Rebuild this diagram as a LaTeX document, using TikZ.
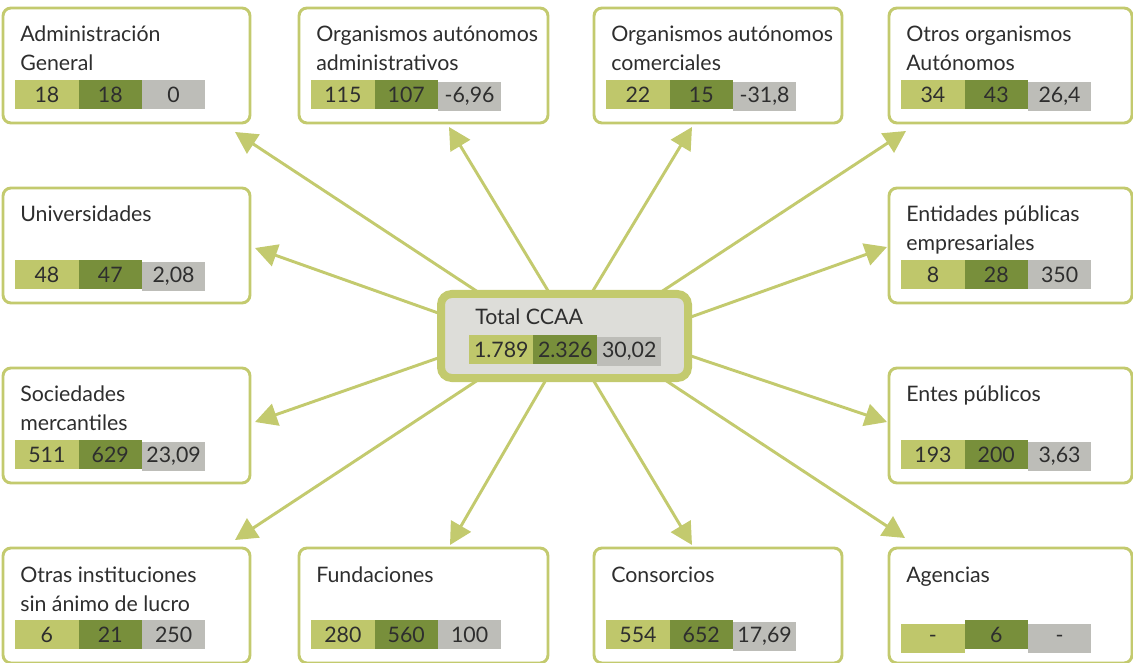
\documentclass[tikz,border=0pt]{standalone}
\usepackage{fontspec}
\setmainfont{Lato}
\usepackage{tikz}
\usetikzlibrary{matrix,positioning,calc,arrows.meta,backgrounds}

\definecolor{verdeclaro}{HTML}{BFC76B}
\definecolor{verdeoscuro}{HTML}{788F3B}
\definecolor{gris}{HTML}{BDBDB8}
\definecolor{borde}{HTML}{C3CA6E}
\definecolor{fondo}{HTML}{DDDDD9}
\definecolor{texto}{HTML}{2E2E2E}

\begin{document}
\begin{tikzpicture}[x=0.75pt,y=-0.75pt,
    caja/.style={draw=borde, line width=2.2pt, rounded corners=6pt, fill=white, anchor=north west, inner sep=0pt, outer sep=0pt, minimum height=86.25pt},
    titulo/.style={anchor=base west, align=left, inner sep=0pt, text=texto, font=\fontsize{16}{21.75}\selectfont},
    valores/.style={matrix of nodes, anchor=north west, inner sep=0pt, column sep=0pt,
      nodes={minimum width=47.5pt, minimum height=21.75pt, inner sep=0pt, text=texto, font=\fontsize{16}{20}\selectfont},
      column 1/.style={nodes={fill=verdeclaro}}, column 2/.style={nodes={fill=verdeoscuro}}, column 3/.style={nodes={fill=gris}}},
    flecha/.style={draw=borde, line width=2.2pt, -{Triangle[length=16.5pt,width=17pt]}}]
\useasboundingbox (0,0) rectangle (1133,663);

\node[caja, line width=6pt, rounded corners=8pt, fill=fondo, minimum width=185.25pt, minimum height=63pt] (tot) at (441,294) {};
\node[titulo] (tot-t) at ([shift={(34,31)}]tot.north west) {Total CCAA};
\matrix[valores, nodes={minimum width=48pt}] (tot-v) at ([shift={(28,41)}]tot.north west) {1.789 & 2.326 & 30,02 \\};

\node[caja, minimum width=185.25pt] (adm) at (3,8) {};
\node[titulo] (adm-t) at ([shift={(17,63)}]adm.north west) {Administración\\General};
\matrix[valores] (adm-v) at ([shift={(12,72)}]adm.north west) {18 & 18 & 0 \\};

\node[caja, minimum width=186.75pt] (oaa) at (299,8) {};
\node[titulo] (oaa-t) at ([shift={(17,63)}]oaa.north west) {Organismos autónomos\\administrativos};
\matrix[valores] (oaa-v) at ([shift={(12,72)}]oaa.north west) {115 & 107 & -6,96 \\};

\node[caja, minimum width=186pt] (oac) at (594,8) {};
\node[titulo] (oac-t) at ([shift={(17,63)}]oac.north west) {Organismos autónomos\\comerciales};
\matrix[valores] (oac-v) at ([shift={(12,72)}]oac.north west) {22 & 15 & -31,8 \\};

\node[caja, minimum width=182.25pt] (otr) at (889,8) {};
\node[titulo] (otr-t) at ([shift={(17,63)}]otr.north west) {Otros organismos\\Autónomos};
\matrix[valores] (otr-v) at ([shift={(12,72)}]otr.north west) {34 & 43 & 26,4 \\};

\node[caja, minimum width=185.25pt] (uni) at (3,188) {};
\node[titulo] (uni-t) at ([shift={(17,34)}]uni.north west) {Universidades};
\matrix[valores] (uni-v) at ([shift={(12,72)}]uni.north west) {48 & 47 & 2,08 \\};

\node[caja, minimum width=182.25pt] (ent) at (889,188) {};
\node[titulo] (ent-t) at ([shift={(17,63)}]ent.north west) {Entidades públicas\\empresariales};
\matrix[valores] (ent-v) at ([shift={(12,72)}]ent.north west) {8 & 28 & 350 \\};

\node[caja, minimum width=185.25pt] (soc) at (3,368) {};
\node[titulo] (soc-t) at ([shift={(17,63)}]soc.north west) {Sociedades\\mercantiles};
\matrix[valores] (soc-v) at ([shift={(12,72)}]soc.north west) {511 & 629 & 23,09 \\};

\node[caja, minimum width=182.25pt] (epu) at (889,368) {};
\node[titulo] (epu-t) at ([shift={(17,34)}]epu.north west) {Entes públicos};
\matrix[valores] (epu-v) at ([shift={(12,72)}]epu.north west) {193 & 200 & 3,63 \\};

\node[caja, minimum width=185.25pt] (ots) at (3,548) {};
\node[titulo] (ots-t) at ([shift={(17,63)}]ots.north west) {Otras instituciones\\sin ánimo de lucro};
\matrix[valores] (ots-v) at ([shift={(12,72)}]ots.north west) {6 & 21 & 250 \\};

\node[caja, minimum width=186.75pt] (fun) at (299,548) {};
\node[titulo] (fun-t) at ([shift={(17,34)}]fun.north west) {Fundaciones};
\matrix[valores] (fun-v) at ([shift={(12,72)}]fun.north west) {280 & 560 & 100 \\};

\node[caja, minimum width=186pt] (con) at (594,548) {};
\node[titulo] (con-t) at ([shift={(17,34)}]con.north west) {Consorcios};
\matrix[valores] (con-v) at ([shift={(12,72)}]con.north west) {554 & 652 & 17,69 \\};

\node[caja, minimum width=182.25pt] (age) at (889,548) {};
\node[titulo] (age-t) at ([shift={(17,34)}]age.north west) {Agencias};
\matrix[valores] (age-v) at ([shift={(12,72)}]age.north west) {- & 6 & - \\};

\begin{scope}[on background layer]
\draw[flecha] ($(tot.north west)+(40,0)$) -- ($(adm.south east)+(-15,9)$);
\draw[flecha] ($(tot.north west)+(109,0)$) -- ($(oaa.south)+(25.5,4)$);
\draw[flecha] ($(tot.north west)+(150,0)$) -- ($(oac.south)+(-26,4)$);
\draw[flecha] ($(tot.north west)+(217,0)$) -- ($(otr.south west)+(17,8)$);
\draw[flecha] ($(tot.north west)+(0,20)$) -- ($(uni.east)+(5,2.5)$);
\draw[flecha] ($(tot.north east)+(0,24)$) -- ($(ent.west)+(-2,1.5)$);
\draw[flecha] ($(tot.north west)+(0,63)$) -- ($(soc.east)+(5,-3.5)$);
\draw[flecha] ($(tot.north east)+(0,61)$) -- ($(epu.west)+(-2,-3.5)$);
\draw[flecha] ($(tot.south west)+(40,0)$) -- ($(ots.north east)+(-15,-8)$);
\draw[flecha] ($(tot.south west)+(106,0)$) -- ($(fun.north)+(26.5,-3)$);
\draw[flecha] ($(tot.south west)+(151,0)$) -- ($(con.north)+(-26,-3)$);
\draw[flecha] ($(tot.south west)+(221,0)$) -- ($(age.north west)+(16,-10)$);
\end{scope}
\end{tikzpicture}
\end{document}
